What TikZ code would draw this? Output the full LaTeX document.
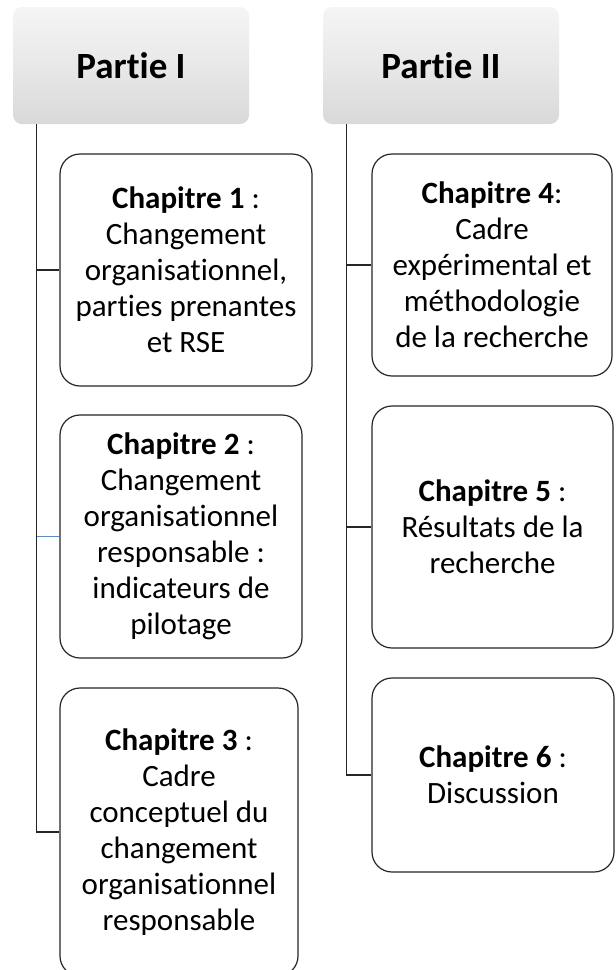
\documentclass[tikz,border=0pt]{standalone}
\usepackage{fontspec}
\setmainfont{Carlito}[Ligatures=NoCommon]
\tikzset{
  partbox/.style={rounded corners=9pt, top color=gray!8, bottom color=gray!30, middle color=gray!18,
    minimum width=236pt, minimum height=117pt, inner sep=0pt,
    font=\fontsize{37}{40}\selectfont\bfseries},
  chapbox/.style={draw=black!85, line width=1.2pt, rounded corners=20pt, align=center,
    inner sep=0pt, font=\fontsize{31}{36}\selectfont},
  trunk/.style={draw=black!85, line width=1.3pt},
  bluebranch/.style={draw={rgb,255:red,91;green,140;blue,200}, line width=1pt}
}
\begin{document}
\begin{tikzpicture}[x=1pt,y=-1pt]
\useasboundingbox (0,0) rectangle (616,970);
\clip (0,0) rectangle (616,970);
\fill[white] (0,0) rectangle (616,970);

\node[partbox] (p1) at (131,65.5) {Partie I};
\node[partbox] (p2) at (441,65.5) {Partie II};

\node[chapbox, minimum width=252pt, minimum height=232pt] (c1) at (186,270)
  {\textbf{Chapitre 1} :\\Changement\\organisationnel,\\parties prenantes\\et RSE};
\node[chapbox, minimum width=242pt, minimum height=243pt] (c2) at (181,536.5)
  {\textbf{Chapitre 2} :\\Changement\\organisationnel\\responsable :\\indicateurs de\\pilotage};
\node[chapbox, minimum width=238pt, minimum height=288pt] (c3) at (179,832)
  {\textbf{Chapitre 3} :\\Cadre\\conceptuel du\\changement\\organisationnel\\responsable};

\node[chapbox, minimum width=240pt, minimum height=222pt] (c4) at (492,265)
  {\textbf{Chapitre 4}:\\Cadre\\expérimental et\\méthodologie\\de la recherche};
\node[chapbox, minimum width=241pt, minimum height=242pt] (c5) at (492.5,527)
  {\textbf{Chapitre 5} :\\Résultats de la\\recherche};
\node[chapbox, minimum width=242pt, minimum height=194pt] (c6) at (493,775)
  {\textbf{Chapitre 6} :\\Discussion};

% left tree
\path (p1.south west) ++(24,0) coordinate (t1);
\draw[trunk] (t1) |- (c3.west);
\draw[trunk] (t1 |- c1.west) -- (c1.west);
\draw[bluebranch] (t1 |- c2.west) -- (c2.west);

% right tree
\path (p2.south west) ++(24,0) coordinate (t2);
\draw[trunk] (t2) |- (c6.west);
\draw[trunk] (t2 |- c4.west) -- (c4.west);
\draw[trunk] (t2 |- c5.west) -- (c5.west);
\end{tikzpicture}
\end{document}
